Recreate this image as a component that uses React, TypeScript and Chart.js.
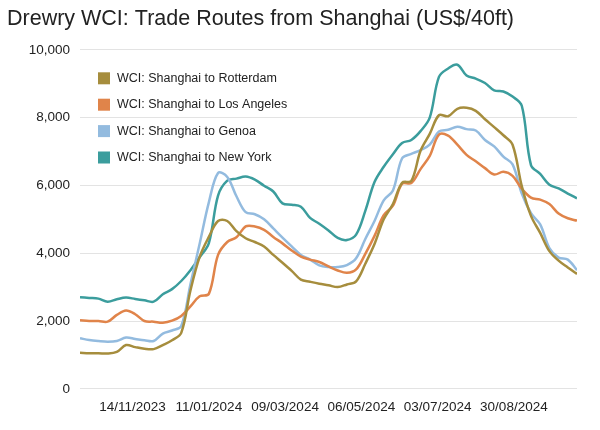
import { useEffect, useRef } from "react";
import Chart from "chart.js/auto";

// weekly WCI readings (Thursdays), 5 Oct 2023 - 17 Oct 2024
const weekDates = [
  "2023-10-05", "2023-10-12", "2023-10-19", "2023-10-26",
  "2023-11-02", "2023-11-09", "2023-11-16", "2023-11-23", "2023-11-30",
  "2023-12-07", "2023-12-14", "2023-12-21", "2023-12-28",
  "2024-01-04", "2024-01-11", "2024-01-18", "2024-01-25",
  "2024-02-01", "2024-02-08", "2024-02-15", "2024-02-22", "2024-02-29",
  "2024-03-07", "2024-03-14", "2024-03-21", "2024-03-28",
  "2024-04-04", "2024-04-11", "2024-04-18", "2024-04-25",
  "2024-05-02", "2024-05-09", "2024-05-16", "2024-05-23", "2024-05-30",
  "2024-06-06", "2024-06-13", "2024-06-20", "2024-06-27",
  "2024-07-04", "2024-07-11", "2024-07-18", "2024-07-25",
  "2024-08-01", "2024-08-08", "2024-08-15", "2024-08-22", "2024-08-29",
  "2024-09-05", "2024-09-12", "2024-09-19", "2024-09-26",
  "2024-10-03", "2024-10-10", "2024-10-17",
];

const rotterdam = [
  1060, 1050, 1050, 1040, 1090, 1290, 1230, 1180, 1170, 1290, 1430, 1650, 2900,
  3890, 4480, 4950, 4950, 4650, 4440, 4330, 4200, 3950, 3720, 3480, 3220, 3157,
  3100, 3055, 3000, 3078, 3170, 3690, 4270, 5000, 5450, 6080, 6130, 7020, 7520,
  8070, 8040, 8260, 8290, 8200, 7950, 7720, 7480, 7200, 5980, 5100, 4600, 4060,
  3780, 3580, 3390,
];

const losAngeles = [
  2020, 2000, 2000, 1980, 2180, 2310, 2200, 2000, 1980, 1950, 2010, 2150, 2430,
  2730, 2800, 3950, 4330, 4470, 4790, 4790, 4690, 4480, 4290, 4080, 3900, 3810,
  3740, 3610, 3490, 3420, 3520, 3980, 4510, 5120, 5400, 6050, 6070, 6480, 6870,
  7500, 7470, 7200, 6900, 6710, 6510, 6320, 6400, 6280, 5900, 5640, 5580, 5450,
  5170, 5030, 4960,
];

const genoa = [
  1490, 1440, 1410, 1390, 1410, 1510, 1470, 1430, 1410, 1630, 1720, 1850, 3080,
  4280, 5500, 6363, 6250, 5680, 5210, 5150, 5000, 4730, 4460, 4200, 3950, 3810,
  3640, 3590, 3590, 3650, 3850, 4420, 4950, 5560, 5850, 6800, 6930, 7040, 7200,
  7590, 7640, 7730, 7660, 7620, 7340, 7150, 6850, 6620, 5760, 5180, 4850, 4150,
  3870, 3810, 3500,
];

const newYork = [
  2700, 2680, 2660, 2570, 2640, 2690, 2650, 2610, 2570, 2790, 2940, 3180, 3500,
  3880, 4300, 5700, 6140, 6200, 6260, 6170, 5990, 5820, 5470, 5430, 5370, 5040,
  4870, 4670, 4450, 4390, 4550, 5250, 6100, 6550, 6920, 7250, 7340, 7600, 8000,
  9200, 9450, 9560, 9240, 9150, 9020, 8800, 8770, 8620, 8350, 6600, 6340, 6020,
  5910, 5760, 5620,
];

const tickDates = ["2023-11-14", "2024-01-11", "2024-03-09", "2024-05-06", "2024-07-03", "2024-08-30"];

const DAY = 86400000;
const start = Date.parse(weekDates[0]);
const dayOf = (d: string) => (Date.parse(d) - start) / DAY;
const fmt = (day: number) => {
  const d = new Date(start + day * DAY);
  const dd = String(d.getUTCDate()).padStart(2, "0");
  const mm = String(d.getUTCMonth() + 1).padStart(2, "0");
  return `${dd}/${mm}/${d.getUTCFullYear()}`;
};

const FONT = "'Liberation Sans', Arial, Helvetica, sans-serif";

const series = [
  { label: "WCI: Shanghai to Rotterdam", values: rotterdam, color: "#a68d3d" },
  { label: "WCI: Shanghai to Los Angeles", values: losAngeles, color: "#e0844a" },
  { label: "WCI: Shanghai to Genoa", values: genoa, color: "#93bbdf" },
  { label: "WCI: Shanghai to New York", values: newYork, color: "#3b9d9d" },
];

// legend drawn inside the plot, top left
const insideLegend = {
  id: "insideLegend",
  afterDraw(chart: any) {
    const { ctx, chartArea } = chart;
    ctx.save();
    ctx.font = `12.5px ${FONT}`;
    ctx.textBaseline = "middle";
    chart.data.datasets.forEach((ds: any, i: number) => {
      const x = chartArea.left + 18;
      const y = chartArea.top + 28.5 + i * 26.4;
      ctx.fillStyle = ds.borderColor;
      ctx.fillRect(x, y - 6, 12, 12);
      ctx.fillStyle = "#222";
      ctx.fillText(ds.label, x + 19, y);
    });
    ctx.restore();
  },
};

export default function App() {
  const canvasRef = useRef<HTMLCanvasElement>(null);

  useEffect(() => {
    const ctx = canvasRef.current?.getContext("2d");
    if (!ctx) return;

    const chart = new Chart(ctx, {
      type: "line",
      data: {
        datasets: series.map((s) => ({
          label: s.label,
          data: s.values.map((v, i) => ({ x: dayOf(weekDates[i]), y: v })),
          borderColor: s.color,
          backgroundColor: s.color,
          borderWidth: 2.5,
          pointRadius: 0,
          tension: 0.35,
          fill: false,
        })),
      },
      options: {
        responsive: true,
        maintainAspectRatio: false,
        animation: false,
        layout: { padding: { left: 7, right: 23, top: 0, bottom: 5 } },
        plugins: {
          legend: { display: false },
          tooltip: { enabled: false },
          title: {
            display: true,
            text: "Drewry WCI: Trade Routes from Shanghai (US$/40ft)",
            align: "start",
            color: "#222",
            font: { family: FONT, size: 21.5, weight: "normal" },
            padding: { top: 6, bottom: 18 },
          },
        },
        scales: {
          x: {
            type: "linear",
            min: 0,
            max: dayOf(weekDates[weekDates.length - 1]),
            grid: { display: false, drawTicks: false },
            border: { display: false },
            afterBuildTicks: (axis: any) => {
              axis.ticks = tickDates.map((d) => ({ value: dayOf(d) }));
            },
            ticks: {
              color: "#222",
              padding: 10,
              maxRotation: 0,
              autoSkip: false,
              font: { family: FONT, size: 13.5 },
              callback: (val: any) => fmt(Number(val)),
            },
          },
          y: {
            min: 0,
            max: 10000,
            afterFit: (axis: any) => {
              axis.width = 73;
            },
            grid: { color: "#e3e3e3", drawTicks: false, lineWidth: 1 },
            border: { display: false },
            ticks: {
              stepSize: 2000,
              color: "#222",
              padding: 10,
              font: { family: FONT, size: 13.5 },
              callback: (val: any) => Number(val).toLocaleString("en-US"),
            },
          },
        },
      },
      plugins: [insideLegend],
    });

    return () => chart.destroy();
  }, []);

  return (
    <div style={{ position: "fixed", left: 0, top: 0, width: 600, height: 430, background: "#fff" }}>
      <canvas ref={canvasRef} />
    </div>
  );
}
